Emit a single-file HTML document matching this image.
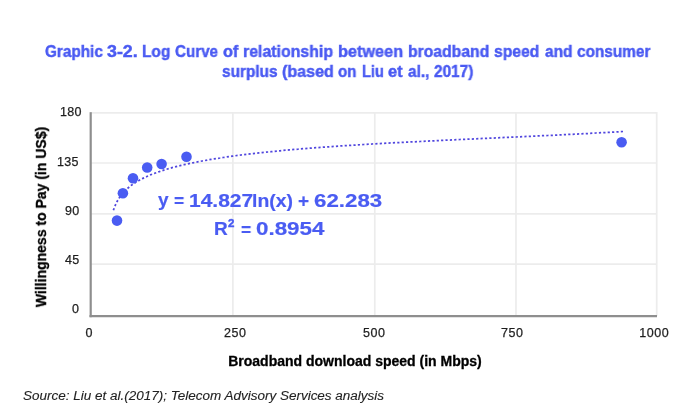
<!DOCTYPE html>
<html><head><meta charset="utf-8">
<style>
html,body{margin:0;padding:0;background:#fff;}
body{width:700px;height:407px;overflow:hidden;position:relative;font-family:"Liberation Sans",sans-serif;}
.t{position:absolute;white-space:nowrap;line-height:1;will-change:transform;}
.tw{-webkit-text-stroke:0.45px #4a5af2;color:#4a5af2;font-weight:bold;font-size:16.5px;transform-origin:0 0;}
.yl{-webkit-text-stroke:0.25px #1e1e1e;color:#1e1e1e;font-size:12.5px;right:620.8px;text-align:right;letter-spacing:0.3px;}
.xl{-webkit-text-stroke:0.25px #1e1e1e;color:#1e1e1e;font-size:12.5px;width:60px;text-align:center;letter-spacing:0.6px;text-indent:0.6px;}
.eq{-webkit-text-stroke:0.2px #4a5cf2;color:#4a5cf2;font-weight:bold;font-size:19px;transform-origin:0 0;}
svg{position:absolute;left:0;top:0;}
</style></head><body>
<svg width="700" height="407" viewBox="0 0 700 407">
  <g stroke="#ececec" stroke-width="1.7" fill="none">
    <line x1="90" y1="112.8" x2="657" y2="112.8"/>
    <line x1="90" y1="163" x2="657" y2="163"/>
    <line x1="90" y1="213.9" x2="657" y2="213.9"/>
    <line x1="90" y1="264.2" x2="657" y2="264.2"/>
    <line x1="232.9" y1="112" x2="232.9" y2="316"/>
    <line x1="374.8" y1="112" x2="374.8" y2="316"/>
    <line x1="516" y1="112" x2="516" y2="316"/>
    <line x1="656.7" y1="112" x2="656.7" y2="316"/>
  </g>
  <g stroke="#8e8e8e" stroke-width="2.2" fill="none">
    <line x1="90.7" y1="112.2" x2="90.7" y2="317.2"/>
    <line x1="89.5" y1="316.2" x2="657" y2="316.2"/>
  </g>
  <path fill="none" stroke="#5046de" stroke-width="1.75" stroke-dasharray="2.2 2.189" d="M113.4 210.3 L114.4 207.5 L115.4 205.0 L116.4 202.9 L117.4 201.0 L118.4 199.3 L119.4 197.7 L120.4 196.3 L121.4 194.9 L122.4 193.7 L123.4 192.5 L124.4 191.5 L125.4 190.4 L126.4 189.5 L127.4 188.6 L128.4 187.7 L129.4 186.9 L130.4 186.1 L131.4 185.3 L132.4 184.6 L133.4 183.9 L134.4 183.2 L135.4 182.6 L136.4 181.9 L137.4 181.3 L138.4 180.8 L139.4 180.2 L140.4 179.7 L141.4 179.1 L142.4 178.6 L143.4 178.1 L144.4 177.6 L145.4 177.1 L146.4 176.7 L147.4 176.2 L148.4 175.8 L149.4 175.4 L150.4 174.9 L151.4 174.5 L152.4 174.1 L153.4 173.7 L154.4 173.4 L155.4 173.0 L156.4 172.6 L157.4 172.3 L158.4 171.9 L159.4 171.6 L160.0 171.4 L163.0 170.4 L166.0 169.4 L169.0 168.6 L172.0 167.7 L175.0 166.9 L178.0 166.1 L181.0 165.4 L184.0 164.7 L187.0 164.0 L190.0 163.4 L193.0 162.8 L196.0 162.1 L199.0 161.6 L202.0 161.0 L205.0 160.5 L208.0 159.9 L211.0 159.4 L214.0 158.9 L217.0 158.4 L220.0 158.0 L223.0 157.5 L226.0 157.1 L229.0 156.6 L232.0 156.2 L235.0 155.8 L238.0 155.4 L241.0 155.0 L244.0 154.7 L247.0 154.3 L250.0 153.9 L253.0 153.6 L256.0 153.2 L259.0 152.9 L262.0 152.6 L265.0 152.3 L268.0 152.0 L271.0 151.7 L274.0 151.4 L277.0 151.1 L280.0 150.8 L283.0 150.5 L286.0 150.2 L289.0 149.9 L292.0 149.7 L295.0 149.4 L298.0 149.2 L300.0 149.0 L308.0 148.3 L316.0 147.7 L324.0 147.1 L332.0 146.6 L340.0 146.0 L348.0 145.5 L356.0 145.0 L364.0 144.5 L372.0 144.0 L380.0 143.6 L388.0 143.1 L396.0 142.7 L404.0 142.3 L412.0 141.9 L420.0 141.5 L428.0 141.1 L436.0 140.7 L444.0 140.3 L452.0 139.9 L460.0 139.5 L468.0 139.2 L476.0 138.8 L484.0 138.4 L492.0 138.1 L500.0 137.7 L508.0 137.3 L516.0 137.0 L524.0 136.6 L532.0 136.2 L540.0 135.8 L548.0 135.5 L556.0 135.1 L564.0 134.7 L572.0 134.3 L580.0 133.9 L588.0 133.5 L596.0 133.0 L604.0 132.6 L612.0 132.2 L623.0 131.5"/>
  <g fill="#4a5cf2">
    <circle cx="117" cy="220.6" r="5.3"/>
    <circle cx="122.9" cy="193.3" r="5.3"/>
    <circle cx="133" cy="178.3" r="5.3"/>
    <circle cx="147.2" cy="167.5" r="5.3"/>
    <circle cx="161.6" cy="164" r="5.3"/>
    <circle cx="186.5" cy="156.7" r="5.3"/>
    <circle cx="621.6" cy="142.3" r="5.3"/>
  </g>
</svg>
<div class="t tw" style="left:45.07px;top:43px;transform:scaleX(0.928)">Graphic</div>
<div class="t tw" style="left:106.72px;top:43px;transform:scaleX(1.080)">3-2.</div>
<div class="t tw" style="left:141.96px;top:43px;transform:scaleX(0.936)">Log</div>
<div class="t tw" style="left:175.08px;top:43px;transform:scaleX(0.920)">Curve</div>
<div class="t tw" style="left:223.31px;top:43px;transform:scaleX(0.987)">of</div>
<div class="t tw" style="left:242.74px;top:43px;transform:scaleX(0.963)">relationship</div>
<div class="t tw" style="left:337.61px;top:43px;transform:scaleX(0.986)">between</div>
<div class="t tw" style="left:408.25px;top:43px;transform:scaleX(0.953)">broadband</div>
<div class="t tw" style="left:493.65px;top:43px;transform:scaleX(0.950)">speed</div>
<div class="t tw" style="left:545.20px;top:43px;transform:scaleX(0.936)">and</div>
<div class="t tw" style="left:576.77px;top:43px;transform:scaleX(0.931)">consumer</div>
<div class="t tw" style="left:222.37px;top:63px;transform:scaleX(0.931)">surplus</div>
<div class="t tw" style="left:281.93px;top:63px;transform:scaleX(0.975)">(based</div>
<div class="t tw" style="left:337.98px;top:63px;transform:scaleX(0.917)">on</div>
<div class="t tw" style="left:361.60px;top:63px;transform:scaleX(0.880)">Liu</div>
<div class="t tw" style="left:387.61px;top:63px;transform:scaleX(0.986)">et</div>
<div class="t tw" style="left:407.70px;top:63px;transform:scaleX(0.936)">al.,</div>
<div class="t tw" style="left:433.67px;top:63px;transform:scaleX(0.932)">2017)</div>

<div class="t yl" style="top:106.3px;right:617.8px">180</div>
<div class="t yl" style="top:156px">135</div>
<div class="t yl" style="top:205px">90</div>
<div class="t yl" style="top:254px">45</div>
<div class="t yl" style="top:303px">0</div>

<div class="t xl" style="left:58.5px;top:327px">0</div>
<div class="t xl" style="left:205.3px;top:327px">250</div>
<div class="t xl" style="left:344.4px;top:327px">500</div>
<div class="t xl" style="left:482.3px;top:327px">750</div>
<div class="t xl" style="left:624.4px;top:327px">1000</div>

<div class="t" style="font-weight:bold;font-size:14px;color:#000;-webkit-text-stroke:0.3px #000;left:41px;top:217px;transform:translate(-50%,-50%) rotate(-90deg);">Willingness to Pay (in US$)</div>
<div class="t" style="font-weight:bold;font-size:14px;color:#000;-webkit-text-stroke:0.3px #000;left:205px;width:300px;text-align:center;top:354px;">Broadband download speed (in Mbps)</div>

<div class="t eq" style="left:157.9px;top:190px">y</div>
<div class="t eq" style="left:173.7px;top:191px;transform:scaleX(0.92)">=</div>
<div class="t eq" style="left:189.3px;top:190.5px;transform:scaleX(1.105)">14.827</div>
<div class="t eq" style="left:252.4px;top:190.5px;transform:scaleX(1.02)">ln(x)</div>
<div class="t eq" style="left:297.6px;top:191px">+</div>
<div class="t eq" style="left:314.1px;top:190.5px;transform:scaleX(1.173)">62.283</div>
<div class="t eq" style="left:213.9px;top:219px">R</div>
<div class="t eq" style="left:228px;top:217.6px;font-size:11.5px;-webkit-text-stroke:0.5px #4a5cf2">2</div>
<div class="t eq" style="left:241px;top:219.5px;transform:scaleX(0.92)">=</div>
<div class="t eq" style="left:256.2px;top:219px;transform:scaleX(1.177)">0.8954</div>

<div class="t" style="font-style:italic;font-size:12px;color:#222;-webkit-text-stroke:0.1px #222;left:23px;top:389.8px;transform-origin:0 0;transform:scaleX(1.124)">Source: Liu et al.(2017); Telecom Advisory Services analysis</div>
</body></html>
